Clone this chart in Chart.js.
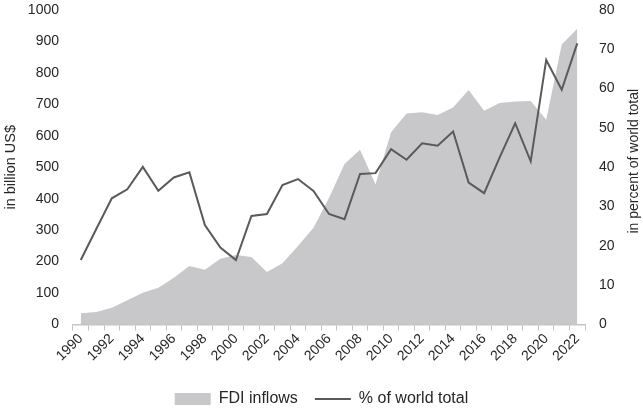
<!DOCTYPE html>
<html>
<head>
<meta charset="utf-8">
<script src="https://cdn.jsdelivr.net/npm/chart.js@4"></script>
<style>
  html, body { margin: 0; padding: 0; background: #fff; }
  #wrap { width: 643px; height: 409px; }
</style>
</head>
<body>
<div id="wrap"><canvas id="fdiChart"></canvas></div>
<script>
// years 1990 - 2022
var years = ["1990","1991","1992","1993","1994","1995","1996","1997","1998","1999",
  "2000","2001","2002","2003","2004","2005","2006","2007","2008","2009",
  "2010","2011","2012","2013","2014","2015","2016","2017","2018","2019",
  "2020","2021","2022"];

// FDI inflows, billion US$ (left axis)
var fdiInflows = [36, 40, 53, 77, 101, 117, 149, 186, 174, 209,
  221, 215, 167, 195, 250, 308, 402, 510, 556, 446,
  611, 671, 675, 666, 690, 746, 680, 704, 709, 711,
  651, 890, 940];

// share of world total, percent (right axis)
var worldShare = [16.4, 24.3, 32.1, 34.4, 40.1, 34.0, 37.4, 38.7, 25.3, 19.6,
  16.4, 27.6, 28.1, 35.5, 37.0, 34.0, 28.1, 26.8, 38.3, 38.5,
  44.6, 41.9, 46.1, 45.5, 49.1, 36.1, 33.4, 42.5, 51.2, 41.5,
  67.3, 59.7, 71.5];

var rightTitle = "in percent of world total";

Chart.defaults.font.family = "'Liberation Sans', Arial, sans-serif";
Chart.defaults.font.size = 14;
Chart.defaults.color = "#262626";

// right axis title, read bottom to top like the left one
var rightTitlePlugin = {
    id: "rightTitle",
    afterDraw: function (chart) {
        var c = chart.ctx;
        var area = chart.chartArea;
        c.save();
        c.translate(634, (area.top + area.bottom) / 2 - 6);
        c.rotate(-Math.PI / 2);
        c.font = "14px 'Liberation Sans', Arial, sans-serif";
        c.fillStyle = "#262626";
        c.textAlign = "center";
        c.textBaseline = "middle";
        c.fillText(rightTitle, 0, 0);
        c.restore();
    }
};

// invisible tick marks keep the gap between labels and plot
var hiddenGrid = {
    display: true,
    drawOnChartArea: false,
    drawTicks: true,
    tickLength: 14,
    color: "rgba(0,0,0,0)"
};

var ctx = document.getElementById("fdiChart").getContext("2d");
var fdiChart = new Chart(ctx, {
    type: "line",
    data: {
        labels: years,
        datasets: [
            {
                label: "FDI inflows",
                data: fdiInflows,
                yAxisID: "y",
                fill: "origin",
                backgroundColor: "#c8c8ca",
                borderWidth: 0,
                borderColor: "rgba(0,0,0,0)",
                pointRadius: 0,
                pointStyle: "rect",
                order: 2
            },
            {
                label: "% of world total",
                data: worldShare,
                yAxisID: "y1",
                fill: false,
                borderColor: "#5a5a5c",
                backgroundColor: "#5a5a5c",
                borderWidth: 2,
                pointRadius: 0,
                pointStyle: "line",
                order: 1
            }
        ]
    },
    plugins: [rightTitlePlugin],
    options: {
        responsive: true,
        maintainAspectRatio: false,
        animation: false,
        layout: { padding: { top: 10, bottom: -8 } },
        plugins: {
            tooltip: { enabled: false },
            legend: {
                position: "bottom",
                labels: {
                    usePointStyle: true,
                    pointStyleWidth: 36,
                    boxHeight: 12,
                    padding: 17,
                    font: { size: 16 },
                    color: "#262626",
                    sort: function (a, b) { return a.datasetIndex - b.datasetIndex; }
                }
            }
        },
        scales: {
            x: {
                offset: true,
                grid: {
                    offset: true,
                    drawOnChartArea: false,
                    drawTicks: true,
                    tickLength: 6,
                    color: "#c4c4c4"
                },
                border: { color: "#c4c4c4", width: 1.5 },
                ticks: {
                    autoSkip: false,
                    maxRotation: 45,
                    minRotation: 45,
                    padding: 0,
                    callback: function (val, i) {
                        return i % 2 === 0 ? years[i] : "";
                    }
                },
                afterFit: function (scale) { scale.height = 49.5; }
            },
            y: {
                position: "left",
                min: 0,
                max: 1000,
                grid: hiddenGrid,
                border: { display: false },
                ticks: {
                    stepSize: 100,
                    padding: 0,
                    callback: function (v) { return String(v); }
                },
                title: { display: true, text: "in billion US$", font: { size: 14.5 }, padding: { top: 2, bottom: 0 } },
                afterFit: function (scale) { scale.width = 73; }
            },
            y1: {
                position: "right",
                min: 0,
                max: 80,
                grid: hiddenGrid,
                border: { display: false },
                ticks: { stepSize: 10, padding: 0 },
                afterFit: function (scale) { scale.width = 58; }
            }
        }
    }
});
</script>
</body>
</html>
